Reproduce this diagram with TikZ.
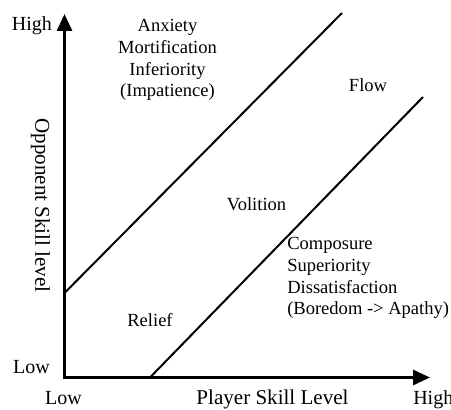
\documentclass[tikz,border=0pt]{standalone}
\usepackage{fontspec}
\setmainfont{Liberation Serif}
\usetikzlibrary{arrows.meta}
\begin{document}
\begin{tikzpicture}[x=0.75pt,y=-0.75pt,
  axis/.style={line width=2.25pt,line join=miter,{Triangle[length=12.75pt,width=11.25pt]}-{Triangle[length=12.75pt,width=11.25pt]}},
  diag/.style={line width=1.5pt},
  region/.style={inner sep=0pt,font=\fontsize{13.9}{16.3}\selectfont},
  hl/.style={inner sep=0pt,font=\fontsize{15}{18}\selectfont},
  title/.style={inner sep=0pt,font=\fontsize{15.8}{19}\selectfont}]
\useasboundingbox (0,0) rectangle (451,410);
\coordinate (ytip) at (64.5,14);
\coordinate (origin) at (64.5,377.5);
\coordinate (xtip) at (430,377.5);
\coordinate (a1) at (64.5,293);
\coordinate (a2) at (342,13);
\coordinate (b1) at (150,377.5);
\coordinate (b2) at (423,97);
\draw[axis] (ytip) -- (origin) -- (xtip);
\draw[diag] (a1) -- (a2);
\draw[diag] (b1) -- (b2);
\node[hl,anchor=base] (yhigh) at (32,31) {High};
\node[hl,anchor=base] (ylow) at (31.5,374) {Low};
\node[hl,anchor=base] (xlow) at (63.5,405) {Low};
\node[hl,anchor=base west] (xhigh) at (413,405) {High};
\node[title,anchor=base] (xtitle) at (272.5,405) {Player Skill Level};
\node[title,rotate=-90] (ytitle) at (40.5,205.5) {Opponent Skill level};
\node[region,anchor=base,align=center] (anx) at (167.5,97) {Anxiety\\Mortification\\Inferiority\\(Impatience)};
\node[region,anchor=base] (flow) at (368,92) {Flow};
\node[region,anchor=base] (vol) at (256.5,211) {Volition};
\node[region,anchor=base] (rel) at (150,327) {Relief};
\node[region,anchor=base west,align=left] (comp) at (287,315) {Composure\\Superiority\\Dissatisfaction\\(Boredom -> Apathy)};
\end{tikzpicture}
\end{document}
